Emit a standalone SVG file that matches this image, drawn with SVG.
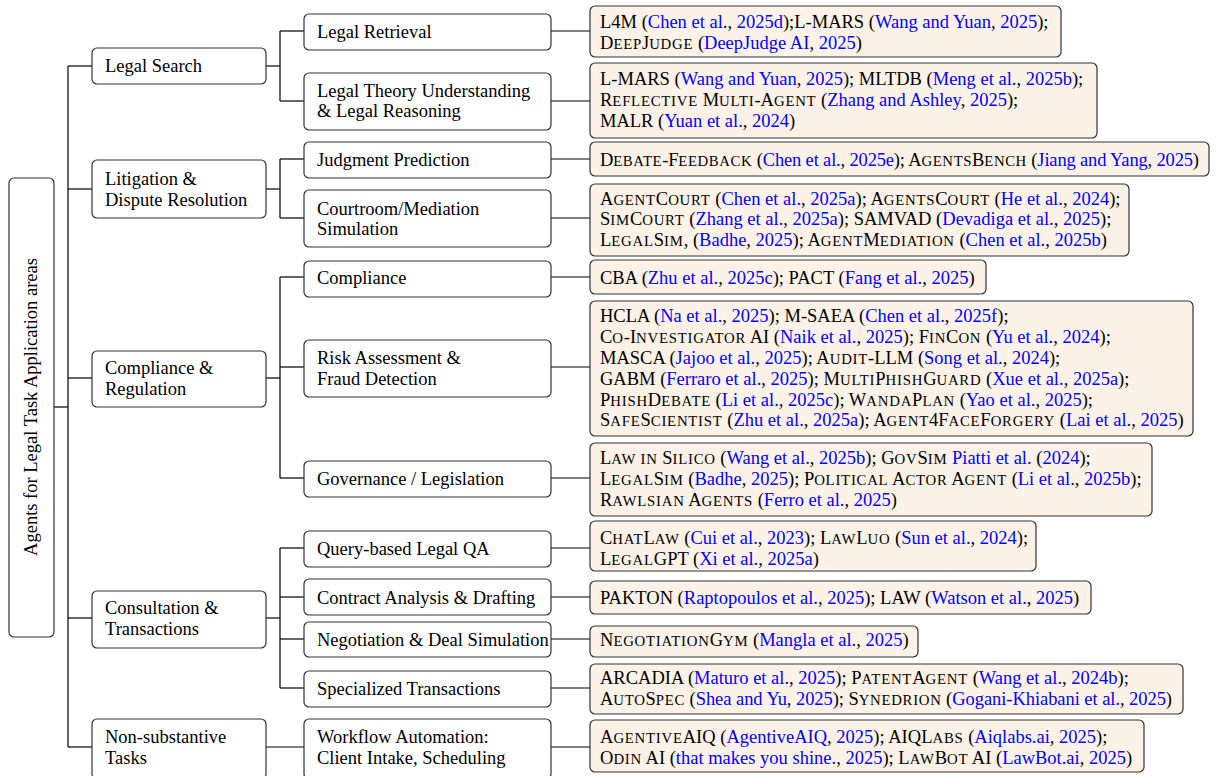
<svg xmlns="http://www.w3.org/2000/svg" width="1219" height="776" viewBox="0 0 1219 776">
<style>
text{font-family:"Liberation Serif","Times New Roman",serif;font-size:18.5px;fill:#000}
.b{fill:#0000ff}
.k{font-size:14.8px;letter-spacing:0.75px}
.box{fill:#fff;stroke:#333;stroke-width:1.2}
.leaf{fill:#fdf2e7;stroke:#333;stroke-width:1.2}
.conn line{stroke:#000;stroke-width:1.2}
</style>
<rect width="1219" height="776" fill="#fff"/>
<g class="conn">
<line x1="54" y1="407" x2="68" y2="407"/>
<line x1="68" y1="66" x2="68" y2="747"/>
<line x1="68" y1="66" x2="92" y2="66"/>
<line x1="68" y1="189" x2="92" y2="189"/>
<line x1="68" y1="378" x2="92" y2="378"/>
<line x1="68" y1="618" x2="92" y2="618"/>
<line x1="68" y1="747" x2="92" y2="747"/>
<line x1="266" y1="66" x2="280" y2="66"/>
<line x1="280" y1="31" x2="280" y2="101"/>
<line x1="280" y1="31" x2="304" y2="31"/>
<line x1="280" y1="101" x2="304" y2="101"/>
<line x1="266" y1="189" x2="280" y2="189"/>
<line x1="280" y1="159" x2="280" y2="218"/>
<line x1="280" y1="159" x2="304" y2="159"/>
<line x1="280" y1="218" x2="304" y2="218"/>
<line x1="266" y1="378" x2="280" y2="378"/>
<line x1="280" y1="277" x2="280" y2="478"/>
<line x1="280" y1="277" x2="304" y2="277"/>
<line x1="280" y1="367" x2="304" y2="367"/>
<line x1="280" y1="478" x2="304" y2="478"/>
<line x1="266" y1="618" x2="280" y2="618"/>
<line x1="280" y1="548" x2="280" y2="688"/>
<line x1="280" y1="548" x2="304" y2="548"/>
<line x1="280" y1="597" x2="304" y2="597"/>
<line x1="280" y1="639" x2="304" y2="639"/>
<line x1="280" y1="688" x2="304" y2="688"/>
<line x1="266" y1="747" x2="304" y2="747"/>
<line x1="551" y1="31" x2="590" y2="31"/>
<line x1="551" y1="101" x2="590" y2="101"/>
<line x1="551" y1="159" x2="590" y2="159"/>
<line x1="551" y1="218" x2="590" y2="218"/>
<line x1="551" y1="277" x2="590" y2="277"/>
<line x1="551" y1="367" x2="590" y2="367"/>
<line x1="551" y1="478" x2="590" y2="478"/>
<line x1="551" y1="548" x2="590" y2="548"/>
<line x1="551" y1="597" x2="590" y2="597"/>
<line x1="551" y1="639" x2="590" y2="639"/>
<line x1="551" y1="688" x2="590" y2="688"/>
<line x1="551" y1="747" x2="590" y2="747"/>
</g>
<g id="root">
<rect class="box" x="9" y="178" width="45" height="459" rx="5"/>
<text transform="translate(37,407) rotate(-90)" text-anchor="middle">Agents for Legal Task Application areas</text>
</g>
<g id="legal-search"><rect class="box" x="92" y="48" width="174" height="36" rx="5"/><text x="105" y="71.5">Legal Search</text></g>
<g id="litigation"><rect class="box" x="92" y="160" width="174" height="58" rx="5"/><text x="105" y="184.5">Litigation &amp;</text><text x="105" y="205.5">Dispute Resolution</text></g>
<g id="compliance-regulation"><rect class="box" x="92" y="351" width="174" height="56" rx="5"/><text x="105" y="373.5">Compliance &amp;</text><text x="105" y="394.5">Regulation</text></g>
<g id="consultation"><rect class="box" x="92" y="591" width="174" height="57" rx="5"/><text x="105" y="613.5">Consultation &amp;</text><text x="105" y="634.5">Transactions</text></g>
<g id="non-substantive"><rect class="box" x="92" y="719" width="174" height="60" rx="5"/><text x="105" y="742.5">Non-substantive</text><text x="105" y="763.5">Tasks</text></g>

<g id="legal-retrieval"><rect class="box" x="304" y="14" width="247" height="36" rx="5"/><text x="317" y="37.5">Legal Retrieval</text></g>
<g id="legal-theory"><rect class="box" x="304" y="73" width="247" height="57" rx="5"/><text x="317" y="96.5">Legal Theory Understanding</text><text x="317" y="116.5">&amp; Legal Reasoning</text></g>
<g id="judgment-prediction"><rect class="box" x="304" y="142" width="247" height="36" rx="5"/><text x="317" y="165.5">Judgment Prediction</text></g>
<g id="courtroom"><rect class="box" x="304" y="190" width="247" height="57" rx="5"/><text x="317" y="214.5">Courtroom/Mediation</text><text x="317" y="234.5">Simulation</text></g>
<g id="compliance"><rect class="box" x="304" y="261" width="247" height="36" rx="5"/><text x="317" y="283.5">Compliance</text></g>
<g id="risk"><rect class="box" x="304" y="340" width="247" height="57" rx="5"/><text x="317" y="363.5">Risk Assessment &amp;</text><text x="317" y="384.5">Fraud Detection</text></g>
<g id="governance"><rect class="box" x="304" y="461" width="247" height="36" rx="5"/><text x="317" y="484.5">Governance / Legislation</text></g>
<g id="query-qa"><rect class="box" x="304" y="531" width="247" height="36" rx="5"/><text x="317" y="554.5">Query-based Legal QA</text></g>
<g id="contract"><rect class="box" x="304" y="579" width="247" height="36" rx="5"/><text x="317" y="603.5">Contract Analysis &amp; Drafting</text></g>
<g id="negotiation"><rect class="box" x="304" y="622" width="247" height="35" rx="5"/><text x="317" y="645.5">Negotiation &amp; Deal Simulation</text></g>
<g id="specialized"><rect class="box" x="304" y="671" width="247" height="36" rx="5"/><text x="317" y="694.5">Specialized Transactions</text></g>
<g id="workflow"><rect class="box" x="304" y="719" width="247" height="60" rx="5"/><text x="317" y="742.5">Workflow Automation:</text><text x="317" y="763.5">Client Intake, Scheduling</text></g>

<g id="leaf-retrieval"><rect class="leaf" x="590" y="6" width="471" height="51" rx="5"/>
<text x="600" y="27.5">L4M (<tspan class="b">Chen et al.</tspan>, <tspan class="b">2025d</tspan>);L-MARS (<tspan class="b">Wang and Yuan</tspan>, <tspan class="b">2025</tspan>);</text>
<text x="600" y="48.5">D<tspan class="k">EEP</tspan>J<tspan class="k">UDGE</tspan> (<tspan class="b">DeepJudge AI</tspan>, <tspan class="b">2025</tspan>)</text></g>
<g id="leaf-theory"><rect class="leaf" x="590" y="63" width="507" height="75" rx="5"/>
<text x="600" y="84.5">L-MARS (<tspan class="b">Wang and Yuan</tspan>, <tspan class="b">2025</tspan>); MLTDB (<tspan class="b">Meng et al.</tspan>, <tspan class="b">2025b</tspan>);</text>
<text x="600" y="106">R<tspan class="k">EFLECTIVE</tspan> M<tspan class="k">ULTI</tspan>-A<tspan class="k">GENT</tspan> (<tspan class="b">Zhang and Ashley</tspan>, <tspan class="b">2025</tspan>);</text>
<text x="600" y="127">MALR (<tspan class="b">Yuan et al.</tspan>, <tspan class="b">2024</tspan>)</text></g>
<g id="leaf-judgment"><rect class="leaf" x="590" y="142" width="619" height="34" rx="5"/>
<text x="600" y="165.5" textLength="599" lengthAdjust="spacing">D<tspan class="k">EBATE</tspan>-F<tspan class="k">EEDBACK</tspan> (<tspan class="b">Chen et al.</tspan>, <tspan class="b">2025e</tspan>); A<tspan class="k">GENTS</tspan>B<tspan class="k">ENCH</tspan> (<tspan class="b">Jiang and Yang</tspan>, <tspan class="b">2025</tspan>)</text></g>
<g id="leaf-courtroom"><rect class="leaf" x="590" y="184" width="539" height="72" rx="5"/>
<text x="600" y="204.5">A<tspan class="k">GENT</tspan>C<tspan class="k">OURT</tspan> (<tspan class="b">Chen et al.</tspan>, <tspan class="b">2025a</tspan>); A<tspan class="k">GENTS</tspan>C<tspan class="k">OURT</tspan> (<tspan class="b">He et al.</tspan>, <tspan class="b">2024</tspan>);</text>
<text x="600" y="224.5">S<tspan class="k">IM</tspan>C<tspan class="k">OURT</tspan> (<tspan class="b">Zhang et al.</tspan>, <tspan class="b">2025a</tspan>); SAMVAD (<tspan class="b">Devadiga et al.</tspan>, <tspan class="b">2025</tspan>);</text>
<text x="600" y="245.5">L<tspan class="k">EGAL</tspan>S<tspan class="k">IM</tspan>, (<tspan class="b">Badhe</tspan>, <tspan class="b">2025</tspan>); A<tspan class="k">GENT</tspan>M<tspan class="k">EDIATION</tspan> (<tspan class="b">Chen et al.</tspan>, <tspan class="b">2025b</tspan>)</text></g>
<g id="leaf-compliance"><rect class="leaf" x="590" y="260" width="396" height="34" rx="5"/>
<text x="600" y="283.5">CBA (<tspan class="b">Zhu et al.</tspan>, <tspan class="b">2025c</tspan>); PACT (<tspan class="b">Fang et al.</tspan>, <tspan class="b">2025</tspan>)</text></g>
<g id="leaf-risk"><rect class="leaf" x="590" y="301" width="603" height="135" rx="5"/>
<text x="600" y="321.5">HCLA (<tspan class="b">Na et al.</tspan>, <tspan class="b">2025</tspan>); M-SAEA (<tspan class="b">Chen et al.</tspan>, <tspan class="b">2025f</tspan>);</text>
<text x="600" y="342.5">C<tspan class="k">O</tspan>-I<tspan class="k">NVESTIGATOR</tspan> AI (<tspan class="b">Naik et al.</tspan>, <tspan class="b">2025</tspan>); F<tspan class="k">IN</tspan>C<tspan class="k">ON</tspan> (<tspan class="b">Yu et al.</tspan>, <tspan class="b">2024</tspan>);</text>
<text x="600" y="363.5">MASCA (<tspan class="b">Jajoo et al.</tspan>, <tspan class="b">2025</tspan>); A<tspan class="k">UDIT</tspan>-LLM (<tspan class="b">Song et al.</tspan>, <tspan class="b">2024</tspan>);</text>
<text x="600" y="384.5">GABM (<tspan class="b">Ferraro et al.</tspan>, <tspan class="b">2025</tspan>); M<tspan class="k">ULTI</tspan>P<tspan class="k">HISH</tspan>G<tspan class="k">UARD</tspan> (<tspan class="b">Xue et al.</tspan>, <tspan class="b">2025a</tspan>);</text>
<text x="600" y="405.5">P<tspan class="k">HISH</tspan>D<tspan class="k">EBATE</tspan> (<tspan class="b">Li et al.</tspan>, <tspan class="b">2025c</tspan>); W<tspan class="k">ANDA</tspan>P<tspan class="k">LAN</tspan> (<tspan class="b">Yao et al.</tspan>, <tspan class="b">2025</tspan>);</text>
<text x="600" y="425.5">S<tspan class="k">AFE</tspan>S<tspan class="k">CIENTIST</tspan> (<tspan class="b">Zhu et al.</tspan>, <tspan class="b">2025a</tspan>); A<tspan class="k">GENT</tspan>4F<tspan class="k">ACE</tspan>F<tspan class="k">ORGERY</tspan> (<tspan class="b">Lai et al.</tspan>, <tspan class="b">2025</tspan>)</text></g>
<g id="leaf-governance"><rect class="leaf" x="590" y="443" width="562" height="73" rx="5"/>
<text x="600" y="463.5">L<tspan class="k">AW IN</tspan> S<tspan class="k">ILICO</tspan> (<tspan class="b">Wang et al.</tspan>, <tspan class="b">2025b</tspan>); G<tspan class="k">OV</tspan>S<tspan class="k">IM</tspan> <tspan class="b">Piatti et al.</tspan> (<tspan class="b">2024</tspan>);</text>
<text x="600" y="484.5">L<tspan class="k">EGAL</tspan>S<tspan class="k">IM</tspan> (<tspan class="b">Badhe</tspan>, <tspan class="b">2025</tspan>); P<tspan class="k">OLITICAL</tspan> A<tspan class="k">CTOR</tspan> A<tspan class="k">GENT</tspan> (<tspan class="b">Li et al.</tspan>, <tspan class="b">2025b</tspan>);</text>
<text x="600" y="505.5">R<tspan class="k">AWLSIAN</tspan> A<tspan class="k">GENTS</tspan> (<tspan class="b">Ferro et al.</tspan>, <tspan class="b">2025</tspan>)</text></g>
<g id="leaf-qa"><rect class="leaf" x="590" y="521" width="446" height="50" rx="5"/>
<text x="600" y="543.5">C<tspan class="k">HAT</tspan>L<tspan class="k">AW</tspan> (<tspan class="b">Cui et al.</tspan>, <tspan class="b">2023</tspan>); L<tspan class="k">AW</tspan>L<tspan class="k">UO</tspan> (<tspan class="b">Sun et al.</tspan>, <tspan class="b">2024</tspan>);</text>
<text x="600" y="564.5">L<tspan class="k">EGAL</tspan>GPT (<tspan class="b">Xi et al.</tspan>, <tspan class="b">2025a</tspan>)</text></g>
<g id="leaf-contract"><rect class="leaf" x="590" y="581" width="501" height="33" rx="5"/>
<text x="600" y="603.5">PAKTON (<tspan class="b">Raptopoulos et al.</tspan>, <tspan class="b">2025</tspan>); LAW (<tspan class="b">Watson et al.</tspan>, <tspan class="b">2025</tspan>)</text></g>
<g id="leaf-negotiation"><rect class="leaf" x="590" y="626" width="328" height="31" rx="5"/>
<text x="600" y="645.5">N<tspan class="k">EGOTIATION</tspan>G<tspan class="k">YM</tspan> (<tspan class="b">Mangla et al.</tspan>, <tspan class="b">2025</tspan>)</text></g>
<g id="leaf-specialized"><rect class="leaf" x="590" y="664" width="593" height="50" rx="5"/>
<text x="600" y="683.5">ARCADIA (<tspan class="b">Maturo et al.</tspan>, <tspan class="b">2025</tspan>); P<tspan class="k">ATENT</tspan>A<tspan class="k">GENT</tspan> (<tspan class="b">Wang et al.</tspan>, <tspan class="b">2024b</tspan>);</text>
<text x="600" y="704.5" textLength="572" lengthAdjust="spacing">A<tspan class="k">UTO</tspan>S<tspan class="k">PEC</tspan> (<tspan class="b">Shea and Yu</tspan>, <tspan class="b">2025</tspan>); S<tspan class="k">YNEDRION</tspan> (<tspan class="b">Gogani-Khiabani et al.</tspan>, <tspan class="b">2025</tspan>)</text></g>
<g id="leaf-workflow"><rect class="leaf" x="590" y="720" width="554" height="52" rx="5"/>
<text x="600" y="742.5">A<tspan class="k">GENTIVE</tspan>AIQ (<tspan class="b">AgentiveAIQ</tspan>, <tspan class="b">2025</tspan>); AIQL<tspan class="k">ABS</tspan> (<tspan class="b">Aiqlabs.ai</tspan>, <tspan class="b">2025</tspan>);</text>
<text x="600" y="763.5">O<tspan class="k">DIN</tspan> AI (<tspan class="b">that makes you shine.</tspan>, <tspan class="b">2025</tspan>); L<tspan class="k">AW</tspan>B<tspan class="k">OT</tspan> AI (<tspan class="b">LawBot.ai</tspan>, <tspan class="b">2025</tspan>)</text></g>
</svg>
